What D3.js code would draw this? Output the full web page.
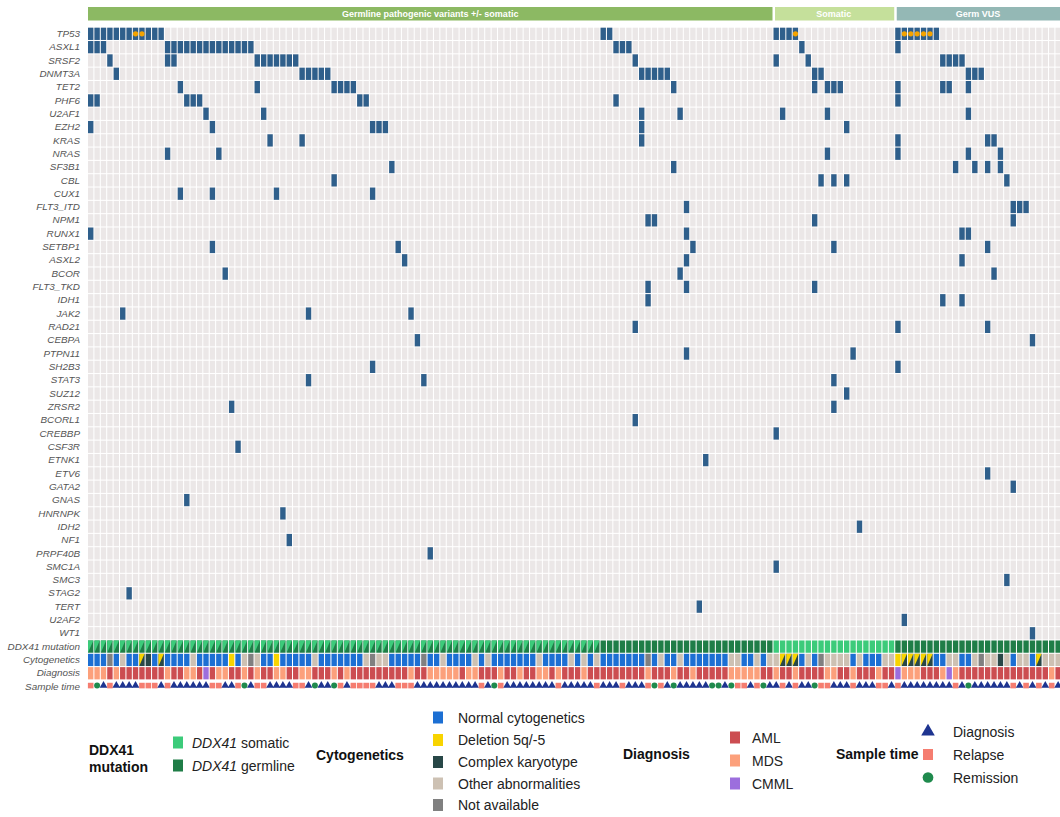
<!DOCTYPE html>
<html lang="en">
<head>
<meta charset="UTF-8">
<title>DDX41 oncoprint</title>
<style>
  body { margin: 0; background: #fff; }
  svg { font-family: Arial, "Liberation Sans", sans-serif; }
</style>
</head>
<body>
<div class="chart"></div>
<script src="https://d3js.org/d3.v7.min.js"></script>
<script>
// sample groups (columns, left to right)
const groups = [
  { name: "Germline pathogenic variants +/- somatic", n: 107, color: "#8cb963" },
  { name: "Somatic", n: 19, color: "#c5e09b" },
  { name: "Germ VUS", n: 26, color: "#94b8b5" }
];

const genes = ["TP53","ASXL1","SRSF2","DNMT3A","TET2","PHF6","U2AF1","EZH2","KRAS","NRAS",
  "SF3B1","CBL","CUX1","FLT3_ITD","NPM1","RUNX1","SETBP1","ASXL2","BCOR","FLT3_TKD",
  "IDH1","JAK2","RAD21","CEBPA","PTPN11","SH2B3","STAT3","SUZ12","ZRSR2","BCORL1",
  "CREBBP","CSF3R","ETNK1","ETV6","GATA2","GNAS","HNRNPK","IDH2","NF1","PRPF40B",
  "SMC1A","SMC3","STAG2","TERT","U2AF2","WT1"];

// mutated sample columns for each gene (same order as genes)
const mutCols = [
  [0,1,2,3,4,5,6,7,8,9,10,11,80,81,107,108,109,110,126,127,128,129,130,131,132],
  [0,1,2,12,13,14,15,16,17,18,19,20,21,22,23,24,25,82,83,84,111,126],
  [3,12,13,26,27,28,29,30,31,32,85,107,112,133,134,135,136],
  [4,33,34,35,36,37,86,87,88,89,90,113,114,137,138,139],
  [14,26,38,39,40,41,91,113,115,116,117,126,133,134,137],
  [0,1,15,16,17,42,43,82,126],
  [18,27,86,92,108,115,137],
  [0,19,44,45,46,86,118],
  [28,33,86,126,140,141],
  [12,20,115,126,137,142],
  [47,91,135,138,140,142],
  [38,114,116,118,143],
  [14,19,29,44],
  [93,144,145,146],
  [87,88,113,144],
  [0,93,136,137],
  [19,48,94,116,140],
  [49,93,136],
  [21,92,141],
  [87,93,113],
  [87,133,136],
  [5,34,50],
  [85,126,140],
  [51,147],
  [93,119],
  [44,126],
  [34,52,116],
  [118],
  [22,116],
  [85],
  [107],
  [23],
  [96],
  [140],
  [144],
  [15],
  [30],
  [120],
  [31],
  [53],
  [107],
  [143],
  [6],
  [95],
  [127],
  [147]
];
// TP53 columns with a second (multi-hit) marker
const tp53Dots = [7,8,110,127,128,129,130,131];

// annotation tracks, one code per column
// DDX41: B = germline + somatic, G = germline, S = somatic
const ddx41 = "BBBBBBBBBB BBBBBBBBBB BBBBBBBBBB BBBBBBBBBB BBBBBBBBBB BBBBBBBBBB BBBBBBBBBB BBBBBBBBBB GGGGGGGGGG GGGGGGGGGG GGGGGGG SSSSSSSSSSSSSSSSSSS GGGGGGGGGGGGGGGGGGGGGGGGGG";
// N normal, D del5q/-5, C complex, Y del5q + complex, O other, X not available
const cyto = "NNNXNONNYC NYNNNNONNN NNDNOXONND NNNNNONNNN NNNOXOONNN NNXNNONNNN ONONNNNNNN ONNNNONONO NNNNNNNXNO NNONNNNNNN OONNONO OYYYNONXOOOONONNNOO DYYYYYNNOONNOXOOCONOONYOOO";
// A AML, M MDS, C CMML
const diagnosis = "MMMAMAAAAA AAMAAMMACA MMAAMAMAAM MAAMMAAAMA MAAAAAAAAA MAAMMMMMAM MAAAMAAMAA MMAMAAAMAA AAAAAAAMAA AMAAMAAAAA MMMMMAA MAAMAAAAMMAAMAAAMAA CMMMAAAMCMAAAAAAAAAAAAAAMA";
// T diagnosis, R relapse, E remission
const sampleTime = "RETRTTTTRR RTRTTTTTTR RTTRETRRTT TTRRTETTER TRRRRTTTRR RTTTTTTTTT TRTERTTTTT TTTRTTTTTR TTTRTTTRER TETTTTTEET ERRTRET TRTRTTERRTTTRTTTRRT RTTTTTTTTRTETTTTTTRTRTRTRT";

const annoRows = ["DDX41 mutation","Cytogenetics","Diagnosis","Sample time"];

const ddxColor = { S: "#3ccb7a", G: "#1f7d47" };
const cytoColor = { N: "#1c6fd3", D: "#f8d400", C: "#284747", O: "#cdc1b3", X: "#808080" };
const diagColor = { A: "#cc4d51", M: "#fca07b", C: "#9c6edd" };
const timeColor = { T: "#1e3490", R: "#f57d70", E: "#1f8a4d" };

const W = 1060, H = 817;
const nCols = d3.sum(groups, g => g.n);
const codes = s => s.replace(/\s/g, "").split("");

const svg = d3.select(".chart").append("svg")
  .attr("width", W).attr("height", H);

const x = d3.scaleBand()
  .domain(d3.range(nCols))
  .range([88, 88 + nCols * 6.4])
  .paddingInner(0.16);

const y = d3.scaleBand()
  .domain(genes.concat(annoRows))
  .range([27.7, 27.7 + 50 * 13.3])
  .paddingInner(0.08);

const bw = x.bandwidth(), bh = y.bandwidth();

// group header bars
let start = 0;
groups.forEach(g => { g.start = start; start += g.n; });
const head = svg.append("g");
head.selectAll("rect").data(groups).join("rect")
  .attr("x", g => x(g.start) + (g.start ? 1.5 : 0))
  .attr("y", 7)
  .attr("width", g => x(g.start + g.n - 1) + bw - x(g.start) - (g.start ? 1.5 : 0))
  .attr("height", 13.5)
  .attr("fill", g => g.color);
head.selectAll("text").data(groups).join("text")
  .attr("x", g => (x(g.start) + x(g.start + g.n - 1) + bw) / 2)
  .attr("y", 16.8)
  .attr("text-anchor", "middle")
  .attr("fill", "#fff")
  .attr("font-weight", "bold")
  .attr("font-size", 9)
  .text(g => g.name);

// grid background
svg.append("g").selectAll("rect")
  .data(d3.cross(genes, d3.range(nCols)))
  .join("rect")
  .attr("x", d => x(d[1]))
  .attr("y", d => y(d[0]))
  .attr("width", bw).attr("height", bh)
  .attr("fill", "#ebe7e7");

// mutations
const muts = genes.flatMap((g, i) => mutCols[i].map(c => ({ gene: g, col: c })));
svg.append("g").selectAll("rect").data(muts).join("rect")
  .attr("x", d => x(d.col))
  .attr("y", d => y(d.gene))
  .attr("width", bw).attr("height", bh)
  .attr("fill", "#2f5f8b");

svg.append("g").selectAll("circle").data(tp53Dots).join("circle")
  .attr("cx", c => x(c) + bw / 2)
  .attr("cy", y("TP53") + bh / 2)
  .attr("r", 2.6)
  .attr("fill", "#f4a300");

// split cell helper: upper-left triangle a, lower-right triangle b
function splitCell(g, col, row, a, b) {
  const x0 = x(col), y0 = y(row);
  g.append("rect").attr("x", x0).attr("y", y0).attr("width", bw).attr("height", bh).attr("fill", b);
  g.append("path")
    .attr("d", `M${x0},${y0}H${x0 + bw}L${x0},${y0 + bh}Z`)
    .attr("fill", a);
}

// DDX41 track
const ddxG = svg.append("g");
codes(ddx41).forEach((c, i) => {
  if (c === "B") splitCell(ddxG, i, "DDX41 mutation", ddxColor.S, ddxColor.G);
  else ddxG.append("rect").attr("x", x(i)).attr("y", y("DDX41 mutation"))
    .attr("width", bw).attr("height", bh).attr("fill", ddxColor[c]);
});

// cytogenetics track
const cytoG = svg.append("g");
codes(cyto).forEach((c, i) => {
  if (c === "Y") splitCell(cytoG, i, "Cytogenetics", cytoColor.D, cytoColor.C);
  else cytoG.append("rect").attr("x", x(i)).attr("y", y("Cytogenetics"))
    .attr("width", bw).attr("height", bh).attr("fill", cytoColor[c]);
});

// diagnosis track
svg.append("g").selectAll("rect").data(codes(diagnosis)).join("rect")
  .attr("x", (c, i) => x(i))
  .attr("y", y("Diagnosis"))
  .attr("width", bw).attr("height", bh)
  .attr("fill", c => diagColor[c]);

// sample time markers
const tri = d3.symbol().type(d3.symbolTriangle).size(26);
const cy = y("Sample time") + bh / 2 - 1;
svg.append("g").selectAll("path").data(codes(sampleTime)).join("path")
  .attr("transform", (c, i) => `translate(${x(i) + bw / 2},${cy})`)
  .attr("d", c => c === "T" ? tri() : c === "E"
    ? d3.symbol().type(d3.symbolCircle).size(28)()
    : "M-2.8,-2.8H2.8V2.8H-2.8Z")
  .attr("fill", c => timeColor[c]);

// row labels
const axis = svg.append("g")
  .attr("transform", "translate(88,0)")
  .call(d3.axisLeft(y).tickSize(0).tickPadding(8));
axis.select(".domain").remove();
axis.selectAll("text")
  .attr("font-family", "Arial, 'Liberation Sans', sans-serif")
  .attr("font-size", 9.9)
  .attr("font-style", "italic")
  .attr("fill", "#555");

// legend
const lg = svg.append("g").attr("font-size", 14).attr("fill", "#222");
function title(lines, tx, ty) {
  const t = lg.append("text").attr("x", tx).attr("y", ty)
    .attr("font-weight", "bold").attr("fill", "#111");
  lines.forEach((l, i) => t.append("tspan").attr("x", tx).attr("dy", i ? 17 : 0).text(l));
}
function swatch(col, sx, scy, label, tx, italicPart) {
  lg.append("rect").attr("x", sx).attr("y", scy - 6).attr("width", 10).attr("height", 12).attr("fill", col);
  const t = lg.append("text").attr("x", tx).attr("y", scy + 5);
  if (italicPart) t.append("tspan").attr("font-style", "italic").text(italicPart);
  t.append("tspan").text(label);
}

const ddxLegend = [["S", " somatic"], ["G", " germline"]];
title(["DDX41", "mutation"], 89, 755);
ddxLegend.forEach((d, i) => swatch(ddxColor[d[0]], 173, 742.5 + i * 23, d[1], 192, "DDX41"));

const cytoLegend = [["N", "Normal cytogenetics"], ["D", "Deletion 5q/-5"], ["C", "Complex karyotype"],
  ["O", "Other abnormalities"], ["X", "Not available"]];
const cytoLegY = [717.5, 740, 762, 783.5, 805];
title(["Cytogenetics"], 316, 760);
cytoLegend.forEach((d, i) => swatch(cytoColor[d[0]], 433, cytoLegY[i], d[1], 458));

const diagLegend = [["A", "AML"], ["M", "MDS"], ["C", "CMML"]];
title(["Diagnosis"], 623, 759);
diagLegend.forEach((d, i) => swatch(diagColor[d[0]], 730, 737.5 + i * 23, d[1], 752));

const timeLegend = [["T", "Diagnosis"], ["R", "Relapse"], ["E", "Remission"]];
title(["Sample time"], 836, 759);
timeLegend.forEach((d, i) => {
  const my = 731.5 + i * 23;
  lg.append("path")
    .attr("transform", `translate(928,${my})`)
    .attr("d", d[0] === "T" ? d3.symbol().type(d3.symbolTriangle).size(80)()
      : d[0] === "E" ? d3.symbol().type(d3.symbolCircle).size(90)() : "M-5,-5.5H5V5.5H-5Z")
    .attr("fill", timeColor[d[0]]);
  lg.append("text").attr("x", 953).attr("y", my + 5).text(d[1]);
});
</script>
</body>
</html>
